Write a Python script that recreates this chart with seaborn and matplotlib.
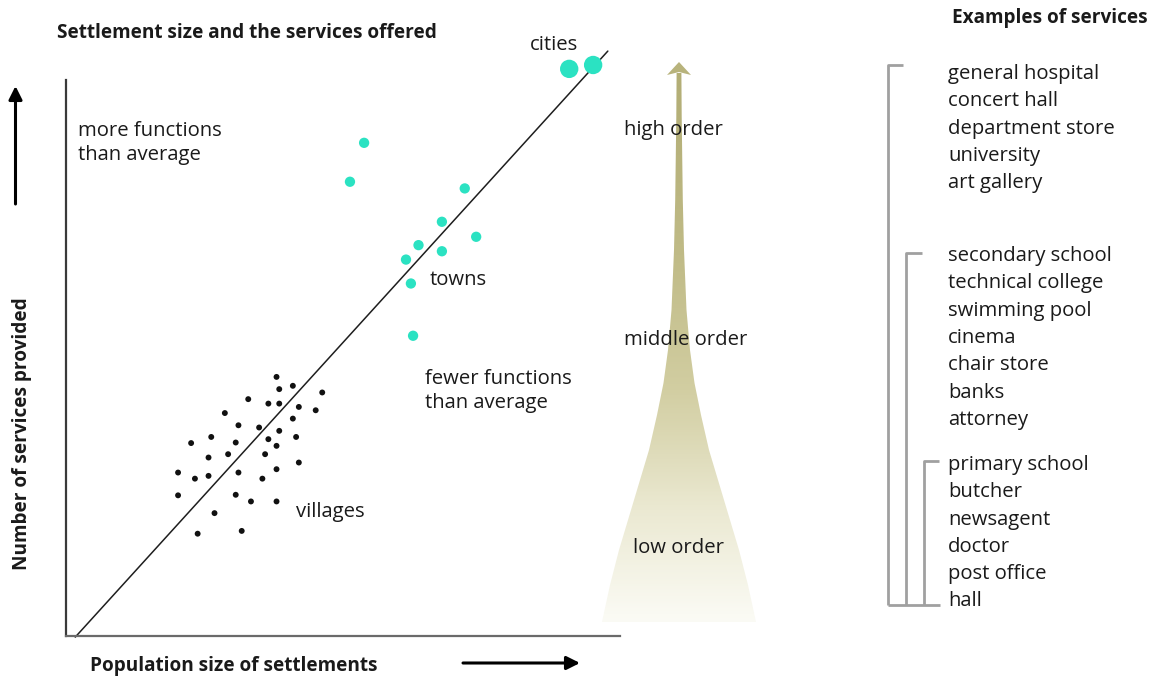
import numpy as np
import pandas as pd
import matplotlib
matplotlib.use("Agg")
import matplotlib.pyplot as plt
import seaborn as sns
from matplotlib.path import Path
from matplotlib.patches import PathPatch, Polygon
from matplotlib.colors import LinearSegmentedColormap

# Settlements: population size (x) against number of services (y), arbitrary units 0-100
village_pop = [38.7, 39.2, 41.7, 47.1, 33.5, 37.2, 39.2, 42.8, 45.9, 29.2,
               41.7, 31.7, 35.5, 39.2, 26.7, 42.3, 37.2, 23.0, 31.2, 38.7,
               26.2, 29.8, 36.6, 42.8, 38.7, 20.6, 23.7, 26.2, 31.7, 36.1,
               20.6, 31.2, 34.0, 38.7, 27.3, 24.2, 32.3]
village_services = [46.6, 44.4, 45.0, 43.8, 42.6, 41.8, 41.8, 41.2, 40.6, 40.1,
                    39.1, 37.9, 37.5, 36.9, 35.8, 35.8, 35.4, 34.7, 34.8, 34.2,
                    32.1, 32.7, 32.7, 31.2, 30.0, 29.4, 28.3, 28.8, 29.4, 28.3,
                    25.3, 25.4, 24.2, 24.2, 22.1, 18.4, 18.9]
town_pop = [54.8, 52.2, 73.3, 69.1, 75.4, 64.8, 69.1, 62.5, 63.4, 63.8]
town_services = [88.7, 81.7, 80.5, 74.5, 71.8, 70.3, 69.2, 67.7, 63.4, 54.0]
city_pop = [92.5, 96.9]
city_services = [102.0, 102.7]

# Average relationship between settlement size and services
trend_pop = [1.7, 99.6]
trend_services = [-0.2, 105.2]

# Examples of services by order
high_order_services = ["general hospital", "concert hall", "department store",
                       "university", "art gallery"]
middle_order_services = ["secondary school", "technical college", "swimming pool",
                         "cinema", "chair store", "banks", "attorney"]
low_order_services = ["primary school", "butcher", "newsagent", "doctor",
                      "post office", "hall"]

sns.set_theme(style="white")
plt.rcParams['font.family'] = ['Open Sans', 'DejaVu Sans']

W, H = 1156, 677
fig = plt.figure(figsize=(W / 100, H / 100), dpi=100)
fig.patch.set_facecolor("white")

# ---- scatter panel -------------------------------------------------------
L, R, T, B = 66, 620, 40, 636
PX_X, PX_Y = 5.44, 5.56          # pixels per unit on each axis
ax = fig.add_axes([L / W, 1 - B / H, (R - L) / W, (B - T) / H])
ax.set_xlim(0, (R - L) / PX_X)
ax.set_ylim(0, (B - T) / PX_Y)
ax.patch.set_alpha(0)

df = pd.concat([
    pd.DataFrame({"pop": village_pop, "services": village_services, "kind": "village"}),
    pd.DataFrame({"pop": town_pop, "services": town_services, "kind": "town"}),
    pd.DataFrame({"pop": city_pop, "services": city_services, "kind": "city"}),
], ignore_index=True)

teal = "#2be2c2"
sns.lineplot(x=trend_pop, y=trend_services, color="#1e1e1e", linewidth=1.1,
             ax=ax, clip_on=False, zorder=2)
sns.scatterplot(data=df, x="pop", y="services", hue="kind", size="kind",
                palette={"village": "#111111", "town": teal, "city": teal},
                sizes={"village": 18, "town": 55, "city": 175},
                edgecolor="none", linewidth=0, legend=False, ax=ax,
                clip_on=False, zorder=3)

ax.set_xlabel("")
ax.set_ylabel("")
ax.set_xticks([])
ax.set_yticks([])
for side in ("top", "right"):
    ax.spines[side].set_visible(False)
ax.spines["left"].set_bounds(0, (B - 80) / PX_Y)
ax.spines["left"].set_color("#3a3a3a")
ax.spines["left"].set_linewidth(1.6)
ax.spines["bottom"].set_color("#6a6a6a")
ax.spines["bottom"].set_linewidth(1.6)

# ---- annotation layer in pixel coordinates --------------------------------
ov = fig.add_axes([0, 0, 1, 1], zorder=5)
ov.patch.set_alpha(0)
ov.axis("off")

# hierarchy cone: narrow stem flaring out towards the base
cx = 679
cone_y = np.array([73, 117, 200, 250, 310, 350, 383, 415, 450, 475, 500, 525,
                   550, 585, 622])
cone_hw = np.array([2.4, 2.7, 3.8, 5.0, 7.5, 11.0, 15.5, 22.0, 30.0, 37.5,
                    45.0, 52.5, 60.0, 69.0, 77.0])
yy = np.linspace(cone_y[0], cone_y[-1], 300)
hh = np.interp(yy, cone_y, cone_hw)
verts = list(zip(cx - hh, yy)) + list(zip((cx + hh)[::-1], yy[::-1]))
cone = PathPatch(Path(verts + [verts[0]], closed=True), facecolor="none",
                 edgecolor="none")
ov.add_patch(cone)
cone_cmap = LinearSegmentedColormap.from_list(
    "cone", ["#b3ae76", "#c0bb87", "#d2cea2", "#ebe9d2", "#fbfbf5"])
grad = np.linspace(0, 1, 300).reshape(-1, 1) ** 1.3
im = ov.imshow(grad, cmap=cone_cmap, extent=[cx - 80, cx + 80, 622, 62],
               aspect="auto", interpolation="bicubic", zorder=1)
im.set_clip_path(cone)
ov.add_patch(Polygon([(667, 75), (679, 62), (691, 75), (679, 72)],
                     closed=True, facecolor="#b8b37c", edgecolor="none", zorder=1))

# brackets grouping the service examples
br = dict(color="#a0a0a0", linewidth=2, solid_capstyle="butt")
ov.plot([903, 888, 888], [65, 65, 605], **br)
ov.plot([922, 906, 906], [253, 253, 605], **br)
ov.plot([939, 924, 924], [461, 461, 605], **br)
ov.plot([888, 940], [605, 605], **br)

# direction arrows
arrow = dict(arrowstyle="-|>", color="black", lw=2.2, mutation_scale=20,
             shrinkA=0, shrinkB=0)
ov.annotate("", xy=(15.5, 86), xytext=(15.5, 204), arrowprops=arrow)
ov.annotate("", xy=(580, 663), xytext=(463, 663), arrowprops=arrow)

ov.set_xlim(0, W)
ov.set_ylim(H, 0)

txt = "#1a1a1a"
fs = 14.6
bfs = 13.7
ov.text(57, 33, "Settlement size and the services offered", fontsize=bfs,
        fontweight="bold", color=txt, va="center", ha="left")
ov.text(952, 18, "Examples of services", fontsize=bfs, fontweight="bold",
        color=txt, va="center", ha="left")
ov.text(90, 666, "Population size of settlements", fontsize=bfs,
        fontweight="bold", color=txt, va="center", ha="left")
ov.text(22, 434, "Number of services provided", fontsize=bfs,
        fontweight="bold", color=txt, va="center", ha="center", rotation=90)

ov.text(530, 45, "cities", fontsize=fs, color=txt, va="center", ha="left")
ov.text(78, 143, "more functions\nthan average", fontsize=fs, color=txt,
        va="center", ha="left", linespacing=1.22)
ov.text(430, 280, "towns", fontsize=fs, color=txt, va="center", ha="left")
ov.text(425, 391, "fewer functions\nthan average", fontsize=fs, color=txt,
        va="center", ha="left", linespacing=1.22)
ov.text(296, 512, "villages", fontsize=fs, color=txt, va="center", ha="left")
ov.text(624, 130, "high order", fontsize=fs, color=txt, va="center", ha="left")
ov.text(624, 340, "middle order", fontsize=fs, color=txt, va="center", ha="left")
ov.text(633, 548, "low order", fontsize=fs, color=txt, va="center", ha="left")

step = 27.3
for start, names in ((74, high_order_services),
                     (256, middle_order_services),
                     (465, low_order_services)):
    for i, name in enumerate(names):
        ov.text(948, start + i * step, name, fontsize=fs, color=txt,
                va="center", ha="left")

fig.savefig("out.png", dpi=100, facecolor="white")
